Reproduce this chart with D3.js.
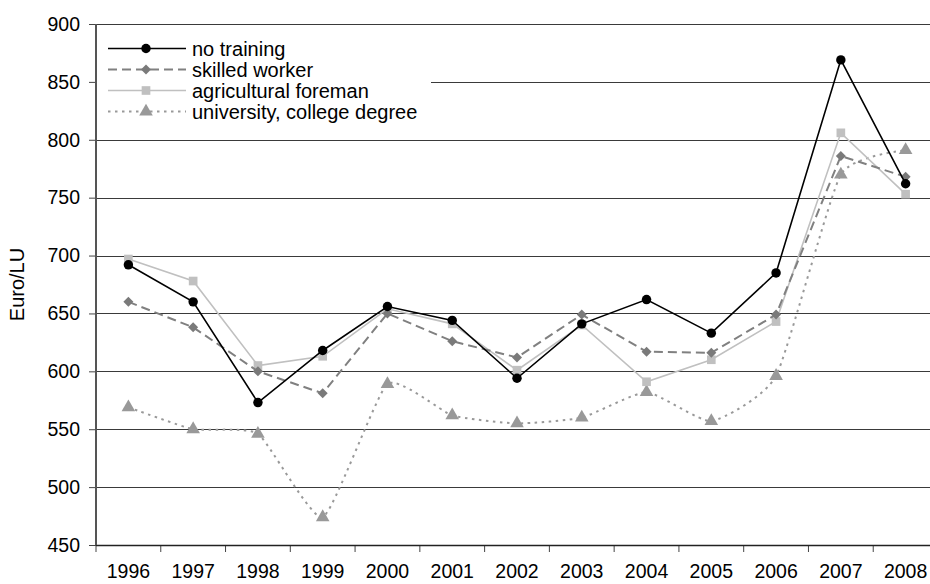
<!DOCTYPE html>
<html>
<head>
<meta charset="utf-8">
<script src="https://cdn.jsdelivr.net/npm/d3@7"></script>
<style>
  body { margin: 0; background: #fff; }
  text { font-family: Arial, "Liberation Sans", sans-serif; fill: #000; }
</style>
</head>
<body>
<div class="chart"></div>
<script>
// data
var years = ["1996", "1997", "1998", "1999", "2000", "2001", "2002", "2003", "2004", "2005", "2006", "2007", "2008"];
var noTraining   = [692, 660, 573, 618, 656, 644, 594, 641, 662, 633, 685, 869, 762];
var skilled      = [660, 638, 600, 581, 650, 626, 612, 649, 617, 616, 649, 786, 768];
var foreman      = [697, 678, 605, 613, 654, 641, 601, 640, 591, 610, 643, 806, 753];
var university   = [569, 550, 546, 474, 589, 562, 555, 560, 582, 557, 596, 770, 791];
var yTicks = [450, 500, 550, 600, 650, 700, 750, 800, 850, 900];
var seriesNames = ["no training", "skilled worker", "agricultural foreman", "university, college degree"];

// chart setup
var svgWidth = 930;
var svgHeight = 584;
var margin = { top: 24, right: -8, bottom: 39, left: 96 };
var width = svgWidth - margin.left - margin.right;
var height = svgHeight - margin.top - margin.bottom;

var svg = d3.select(".chart")
  .append("svg")
  .attr("width", svgWidth)
  .attr("height", svgHeight);

var chartGroup = svg.append("g")
  .attr("transform", `translate(${margin.left}, ${margin.top})`);

// scales
var xScale = d3.scaleBand().domain(years).range([0, width]).padding(0);
var yScale = d3.scaleLinear().domain([450, 900]).range([height, 0]);
var xMid = d => xScale(d) + xScale.bandwidth() / 2;

// gridlines
chartGroup.append("g")
  .selectAll("line")
  .data(yTicks.filter(t => t > 450))
  .enter()
  .append("line")
  .attr("x1", 0)
  .attr("x2", width)
  .attr("y1", d => Math.round(yScale(d)) + 0.5)
  .attr("y2", d => Math.round(yScale(d)) + 0.5)
  .attr("stroke", "#3a3a3a")
  .attr("stroke-width", 1);

// axes
var leftAxis = d3.axisLeft(yScale).tickValues(yTicks).tickSize(7).tickPadding(9);
var yAxisG = chartGroup.append("g").call(leftAxis);
yAxisG.select(".domain").remove();
yAxisG.selectAll("line").attr("stroke", "#444");
yAxisG.selectAll("text").attr("font-size", "19.5px").attr("font-family", "Arial, 'Liberation Sans', sans-serif");

var bottomAxis = d3.axisBottom(xScale).tickSize(0).tickPadding(19);
var xAxisG = chartGroup.append("g")
  .attr("transform", `translate(0, ${height})`)
  .call(bottomAxis);
xAxisG.select(".domain").remove();
xAxisG.selectAll("text").attr("font-size", "19.5px").attr("font-family", "Arial, 'Liberation Sans', sans-serif");

// category boundary ticks
chartGroup.append("g")
  .selectAll("line")
  .data(years.map(d => xScale(d)).concat([width]))
  .enter()
  .append("line")
  .attr("x1", d => d)
  .attr("x2", d => d)
  .attr("y1", height)
  .attr("y2", height + 7)
  .attr("stroke", "#444");

chartGroup.append("line")
  .attr("x1", 0).attr("x2", width)
  .attr("y1", height + 0.5).attr("y2", height + 0.5)
  .attr("stroke", "#222").attr("stroke-width", 1.5);

chartGroup.append("line")
  .attr("x1", 0).attr("x2", 0)
  .attr("y1", 0).attr("y2", height)
  .attr("stroke", "#555").attr("stroke-width", 2);

// y axis title
svg.append("text")
  .attr("transform", `translate(24, ${margin.top + yScale(675)}) rotate(-90)`)
  .attr("text-anchor", "middle")
  .attr("font-size", "20px")
  .text("Euro/LU");

// series styles
var series = [
  { name: seriesNames[0], values: noTraining, stroke: "#000", dash: null, width: 1.6, marker: d3.symbolCircle, size: 70, fill: "#000", rot: 0, curve: d3.curveLinear },
  { name: seriesNames[1], values: skilled, stroke: "#808080", dash: "9,5", width: 2, marker: d3.symbolSquare, size: 50, fill: "#7a7a7a", rot: 45, curve: d3.curveLinear },
  { name: seriesNames[2], values: foreman, stroke: "#c0c0c0", dash: null, width: 1.6, marker: d3.symbolSquare, size: 75, fill: "#c0c0c0", rot: 0, curve: d3.curveLinear },
  { name: seriesNames[3], values: university, stroke: "#999", dash: "2.5,4.5", width: 2, marker: d3.symbolTriangle, size: 80, fill: "#999", rot: 0, curve: d3.curveCardinal.tension(0.5) }
];

// draw in reverse so black sits on top
series.slice().reverse().forEach(function (s) {
  var line = d3.line()
    .x((d, i) => xMid(years[i]))
    .y(d => yScale(d))
    .curve(s.curve);

  chartGroup.append("path")
    .datum(s.values)
    .attr("d", line)
    .attr("fill", "none")
    .attr("stroke", s.stroke)
    .attr("stroke-width", s.width)
    .attr("stroke-dasharray", s.dash);

  chartGroup.selectAll(null)
    .data(s.values)
    .enter()
    .append("path")
    .attr("d", d3.symbol().type(s.marker).size(s.size))
    .attr("transform", (d, i) => `translate(${xMid(years[i])}, ${yScale(d)}) rotate(${s.rot})`)
    .attr("fill", s.fill);
});

// legend
var legend = svg.append("g");
legend.append("rect")
  .attr("x", 97).attr("y", 34)
  .attr("width", 334).attr("height", 90)
  .attr("fill", "#fff");

series.forEach(function (s, i) {
  var ly = 48.5 + i * 21;
  legend.append("line")
    .attr("x1", 108).attr("x2", 186)
    .attr("y1", ly).attr("y2", ly)
    .attr("stroke", s.stroke)
    .attr("stroke-width", s.width)
    .attr("stroke-dasharray", s.dash);
  legend.append("path")
    .attr("d", d3.symbol().type(s.marker).size(s.size))
    .attr("transform", `translate(146, ${ly}) rotate(${s.rot})`)
    .attr("fill", s.fill);
  legend.append("text")
    .attr("x", 192)
    .attr("y", ly)
    .attr("dy", "0.35em")
    .attr("font-size", "20px")
    .text(s.name);
});
</script>
</body>
</html>
